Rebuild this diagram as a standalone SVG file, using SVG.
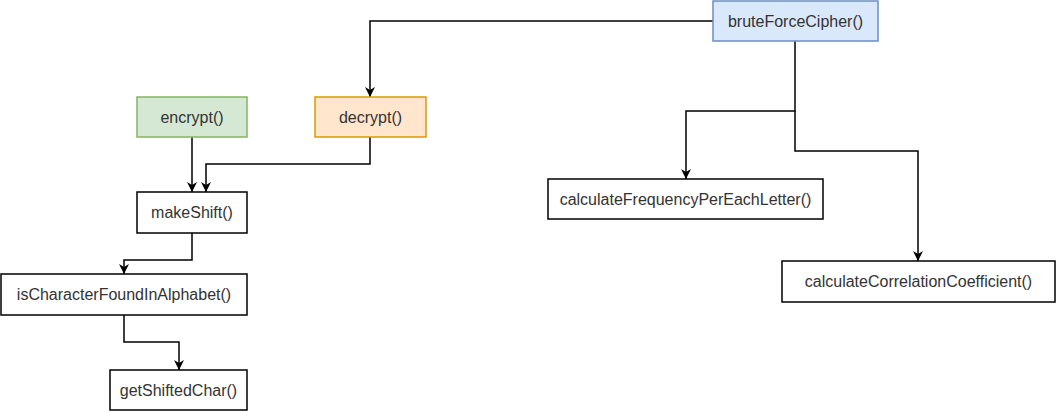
<svg xmlns="http://www.w3.org/2000/svg" width="1056" height="412" viewBox="0 0 1056 412">
<style>
.box{fill:#ffffff;stroke:#000000;stroke-width:1.5}
.blue{fill:#dae8fc;stroke:#6c8ebf}
.green{fill:#d5e8d4;stroke:#82b366}
.orange{fill:#ffe6cc;stroke:#d79b00}
.lbl{font-family:"Liberation Sans",Arial,sans-serif;font-size:16px;fill:#333333;text-anchor:middle;dominant-baseline:central}
.edge{fill:none;stroke:#000000;stroke-width:1.5;marker-end:url(#arrow)}
</style>
<defs>
<marker id="arrow" markerUnits="userSpaceOnUse" viewBox="0 0 10 10" refX="10" refY="5" markerWidth="10" markerHeight="11" orient="auto">
<path d="M0,0 L10,5 L0,10 L3,5 Z" fill="#000000"/>
</marker>
</defs>
<rect width="1056" height="412" fill="#ffffff"/>
<g id="connectors">
<path class="edge" d="M713,21 H370 V97"/>
<path class="edge" d="M795,41 V111 H686 V179"/>
<path class="edge" d="M795,111 V151 H918 V261"/>
<path class="edge" d="M192,137 V192"/>
<path class="edge" d="M370,137 V164 H206 V192"/>
<path class="edge" d="M192,233 V260 H124 V274"/>
<path class="edge" d="M124,315 V342 H179 V370"/>
</g>
<g id="bruteForceCipher"><rect class="box blue" x="713" y="1" width="165" height="40"/><text class="lbl" x="795.5" y="21">bruteForceCipher()</text></g>
<g id="encrypt"><rect class="box green" x="137" y="97" width="110" height="40"/><text class="lbl" x="192" y="117">encrypt()</text></g>
<g id="decrypt"><rect class="box orange" x="315" y="97" width="111" height="40"/><text class="lbl" x="370.5" y="117">decrypt()</text></g>
<g id="makeShift"><rect class="box" x="137" y="192" width="110" height="41"/><text class="lbl" x="192" y="212.5">makeShift()</text></g>
<g id="isCharacterFoundInAlphabet"><rect class="box" x="1" y="274" width="246" height="41"/><text class="lbl" x="124" y="294.5">isCharacterFoundInAlphabet()</text></g>
<g id="getShiftedChar"><rect class="box" x="110" y="370" width="137" height="40"/><text class="lbl" x="178.5" y="390">getShiftedChar()</text></g>
<g id="calculateFrequencyPerEachLetter"><rect class="box" x="548" y="179" width="275" height="40"/><text class="lbl" x="685.5" y="199">calculateFrequencyPerEachLetter()</text></g>
<g id="calculateCorrelationCoefficient"><rect class="box" x="782" y="261" width="273" height="41"/><text class="lbl" x="918.5" y="281.5">calculateCorrelationCoefficient()</text></g>
</svg>
